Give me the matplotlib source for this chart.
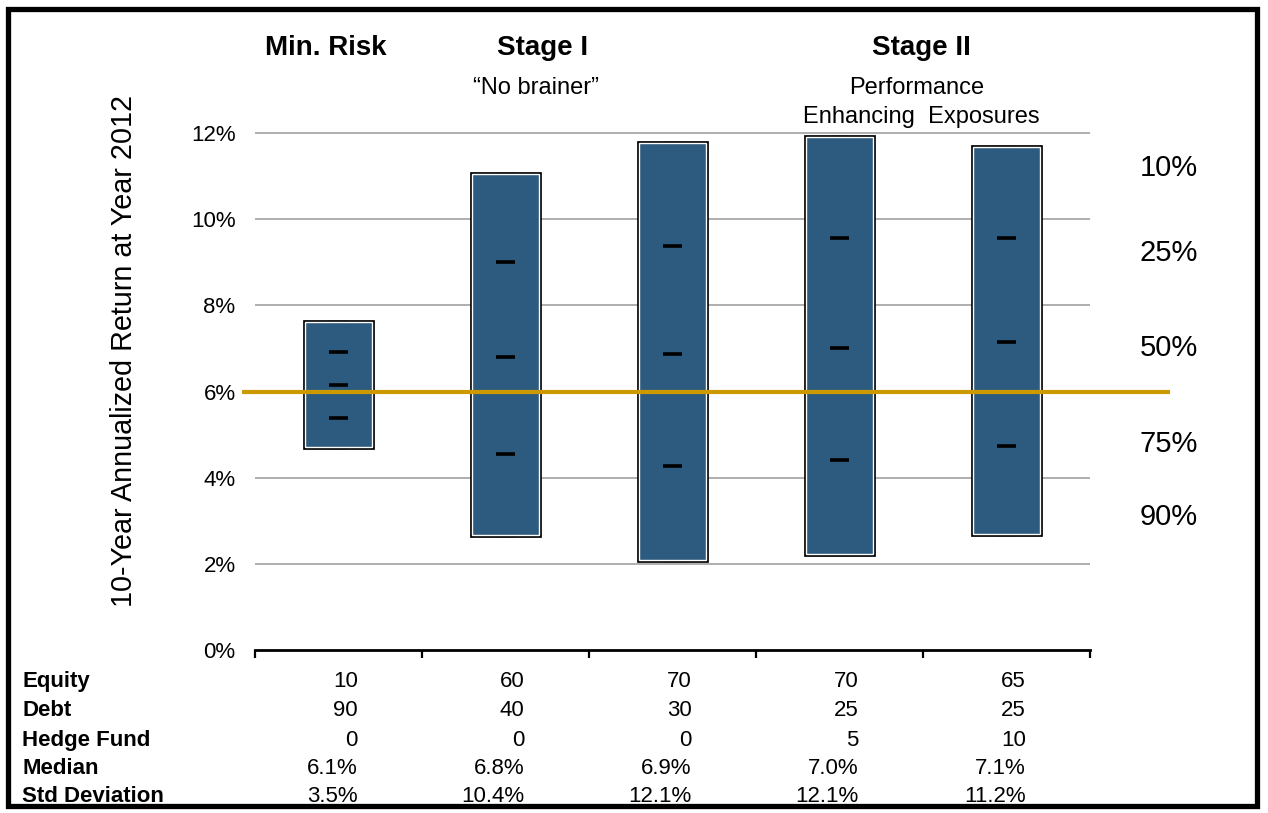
import matplotlib
matplotlib.use("Agg")
import matplotlib.pyplot as plt
import matplotlib.patheffects as pe
from matplotlib.patches import Rectangle

plt.rcParams['font.family'] = ['Liberation Sans', 'DejaVu Sans']

# ---- data ----
portfolios = ["Min. Risk", "Stage I", "Stage I b", "Stage II a", "Stage II b"]
p10 = [7.61, 11.04, 11.77, 11.91, 11.68]
p25 = [6.91, 9.00, 9.37, 9.56, 9.56]
p50 = [6.15, 6.80, 6.87, 7.01, 7.15]
p75 = [5.38, 4.55, 4.27, 4.41, 4.73]
p90 = [4.72, 2.68, 2.09, 2.24, 2.69]
target_return = 6.0

row_labels = ["Equity", "Debt", "Hedge Fund", "Median", "Std Deviation"]
equity = ["10", "60", "70", "70", "65"]
debt = ["90", "40", "30", "25", "25"]
hedge = ["0", "0", "0", "5", "10"]
median_txt = ["6.1%", "6.8%", "6.9%", "7.0%", "7.1%"]
std_txt = ["3.5%", "10.4%", "12.1%", "12.1%", "11.2%"]

pct_labels = ["10%", "25%", "50%", "75%", "90%"]
pct_label_y = [11.18, 9.21, 7.01, 4.78, 3.09]

yticks = [0, 2, 4, 6, 8, 10, 12]

BLUE = "#2D5B7F"
GOLD = "#CC9900"

W, H = 1268, 813
fig = plt.figure(figsize=(W / 100, H / 100), dpi=100)
ax = fig.add_axes([255 / W, 1 - 650 / H, (1090 - 255) / W, 560 / H])
ax.set_xlim(0, 5)
ax.set_ylim(0, 13)

xs = [i + 0.5 for i in range(len(portfolios))]

# gridlines
for y in yticks[1:]:
    ax.axhline(y, color="#999999", lw=1.1, zorder=1)

bw = 0.4
dw = 0.054
for x, a, b, c, d, e in zip(xs, p10, p25, p50, p75, p90):
    # end markers behind box
    ax.hlines([a, e], x - dw, x + dw, color="#333333", lw=2.5, zorder=2)
    r = Rectangle((x - bw / 2, e), bw, a - e, facecolor=BLUE, edgecolor="white",
                  lw=1.0, zorder=3)
    r.set_path_effects([pe.Stroke(linewidth=3.4, foreground="black"), pe.Normal()])
    ax.add_patch(r)
    ax.hlines([b, c, d], x - dw, x + dw, color="black", lw=2.6, zorder=4)

# target line
ax.plot([-0.08, 5.48], [target_return, target_return], color=GOLD, lw=3,
        zorder=5, clip_on=False, solid_capstyle="butt")

# axes styling
for s in ["top", "right", "left"]:
    ax.spines[s].set_visible(False)
ax.spines["bottom"].set_linewidth(2)
ax.set_xticks(range(0, 6))
ax.set_xticklabels([])
ax.tick_params(axis="x", direction="out", length=6, width=1.6, color="black")
ax.set_yticks(yticks)
ax.set_yticklabels([f"{v}%" for v in yticks], fontsize=16)
ax.tick_params(axis="y", length=0, pad=14)

# right percentile labels
for t, y in zip(pct_labels, pct_label_y):
    ax.text(5.47, y, t, fontsize=21, ha="center", va="center", clip_on=False)

# headers
ax.text(0.425, 13.97, "Min. Risk", fontsize=20, fontweight="bold", ha="center", va="center")
ax.text(1.72, 13.97, "Stage I", fontsize=20, fontweight="bold", ha="center", va="center")
ax.text(3.99, 13.97, "Stage II", fontsize=20, fontweight="bold", ha="center", va="center")
ax.text(1.68, 13.04, "\u201cNo brainer\u201d", fontsize=17, ha="center", va="center")
ax.text(3.96, 13.04, "Performance", fontsize=17, ha="center", va="center")
ax.text(3.99, 12.37, "Enhancing  Exposures", fontsize=17, ha="center", va="center")

# y label
fig.text(124 / W, 1 - 351 / H, "10-Year Annualized Return at Year 2012",
         rotation=90, fontsize=20.7, ha="center", va="center")

# table
rows = [equity, debt, hedge, median_txt, std_txt]
row_y = [-0.72, -1.415, -2.09, -2.74, -3.39]
for lab, vals, y in zip(row_labels, rows, row_y):
    ax.text(-1.395, y, lab, fontsize=16, fontweight="bold", ha="left", va="center",
            clip_on=False)
    for x, v in zip(xs, vals):
        ax.text(x + 0.115, y, v, fontsize=16, ha="right", va="center", clip_on=False)

# outer frame
fig.patches.append(Rectangle((8 / W, 7 / H), (W - 11) / W - 8 / W, (H - 9) / H - 7 / H,
                             transform=fig.transFigure, fill=False, edgecolor="black",
                             lw=3.8))

fig.savefig("out.png", dpi=100)
